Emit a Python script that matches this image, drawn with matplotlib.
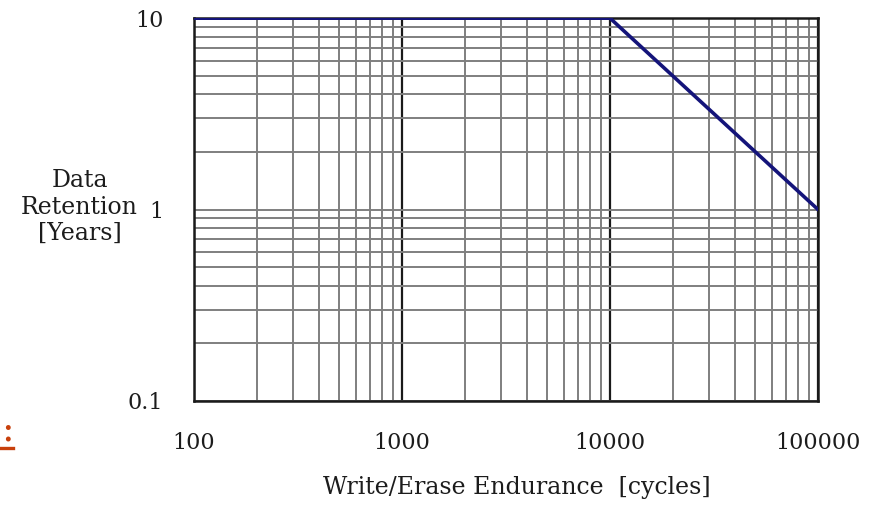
import matplotlib
matplotlib.use("Agg")
import matplotlib.pyplot as plt
from matplotlib.ticker import LogLocator, NullFormatter, FixedLocator, FixedFormatter
from matplotlib.lines import Line2D

# data
endurance = [100, 10000, 100000]      # write/erase cycles
retention = [10, 10, 1]               # years
xticks = [100, 1000, 10000, 100000]
xticklabels = ["100", "1000", "10000", "100000"]
yticks = [0.1, 1, 10]
yticklabels = ["0.1", "1", "10"]

plt.rcParams['font.family'] = ['DejaVu Serif']

fig = plt.figure(figsize=(8.74, 5.05), dpi=100)
ax = fig.add_axes([0.222, 0.206, 0.714, 0.758])

ax.set_xscale('log')
ax.set_yscale('log')
ax.set_xlim(100, 100000)
ax.set_ylim(0.1, 10)

# grid: grey minor lines everywhere, black major verticals
ax.xaxis.set_minor_locator(LogLocator(base=10, subs=range(2, 10)))
ax.yaxis.set_minor_locator(LogLocator(base=10, subs=range(2, 10)))
ax.xaxis.set_minor_formatter(NullFormatter())
ax.yaxis.set_minor_formatter(NullFormatter())
ax.grid(True, axis='x', which='minor', color='#7f7f7f', lw=1.4)
ax.grid(True, axis='y', which='both', color='#7f7f7f', lw=1.4)
ax.grid(True, axis='x', which='major', color='#1a1a1a', lw=1.6)

ax.plot(endurance, retention, color='#14147a', lw=2.6, solid_capstyle='round', zorder=5)

ax.xaxis.set_major_locator(FixedLocator(xticks))
ax.xaxis.set_major_formatter(FixedFormatter(xticklabels))
ax.yaxis.set_major_locator(FixedLocator(yticks))
ax.yaxis.set_major_formatter(FixedFormatter(yticklabels))
ax.tick_params(which='both', length=0)
ax.tick_params(axis='x', pad=22, labelsize=16, labelcolor='#1c1c1c')
ax.tick_params(axis='y', pad=22, labelsize=16, labelcolor='#1c1c1c')

for s in ax.spines.values():
    s.set_color('#1a1a1a')
    s.set_linewidth(1.8)

fig.text(0.591, 0.035, "Write/Erase Endurance  [cycles]", ha='center', va='center',
         fontsize=17, color='#1c1c1c')
fig.text(0.091, 0.59, "Data\nRetention\n[Years]", ha='center', va='center',
         multialignment='center', fontsize=17, color='#1c1c1c', linespacing=1.2)

# leftover bits from the slide the chart was cut from
fig.text(0.001, 0.127, ":", color='#c8400c', fontsize=27,
         ha='left', va='baseline')
fig.add_artist(Line2D([0.0, 0.015], [0.112, 0.112], color='#c8400c', lw=2.4,
                      transform=fig.transFigure))

fig.savefig("out.png", dpi=100)
